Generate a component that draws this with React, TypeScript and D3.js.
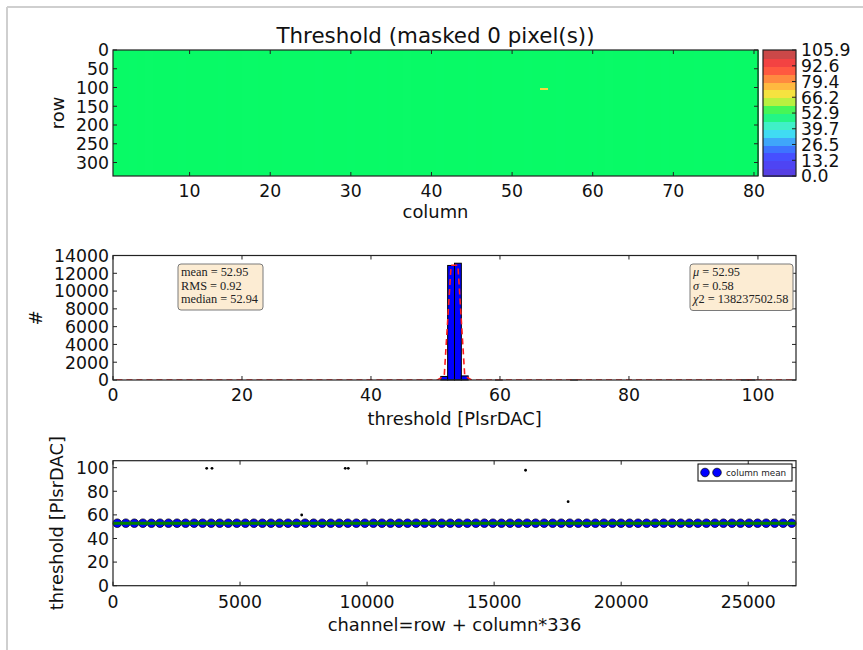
import React from "react";
import * as d3 from "d3";

// pixel map: 336 rows x 80 columns, channel = row + column*336
const NROWS = 336;
const NCOLS = 80;
const VMAX = 105.9;

const heatRowTicks = [0, 50, 100, 150, 200, 250, 300];
const heatColTicks = [10, 20, 30, 40, 50, 60, 70, 80];
const colorbarTicks = [0.0, 13.2, 26.5, 39.7, 52.9, 66.2, 79.4, 92.6, 105.9];
const histXTicks = [0, 20, 40, 60, 80, 100];
const histYTicks = [0, 2000, 4000, 6000, 8000, 10000, 12000, 14000];
const scatXTicks = [0, 5000, 10000, 15000, 20000, 25000];
const scatYTicks = [0, 20, 40, 60, 80, 100];

// colormap
const cmapStops = [0, 15, 24, 32, 39, 46, 53, 61, 67, 74, 82, 88, 94, 103];
const cmapColors = [
  "#5a3cdc", "#4848ff", "#3c78ff", "#40b8f8", "#40f0f0", "#40f0a8", "#08fa66",
  "#a0f040", "#f0f040", "#ffc840", "#ff9040", "#ff6040", "#ff4040", "#c84848",
];

// column means (column mean markers + heatmap body)
const columnMeans = [
  52.95, 52.96, 52.94, 52.95, 52.93, 52.95, 52.96, 52.95, 52.94, 52.95,
  52.97, 52.96, 52.95, 52.94, 52.95, 52.95, 52.93, 52.94, 52.95, 52.96,
  52.95, 52.94, 52.96, 52.95, 52.95, 52.94, 52.95, 52.97, 52.95, 52.94,
  52.95, 52.96, 52.95, 52.94, 52.95, 52.95, 52.93, 52.95, 52.96, 52.95,
  52.94, 52.95, 52.95, 52.96, 52.94, 52.95, 52.95, 52.94, 52.97, 52.95,
  52.95, 52.94, 52.95, 52.96, 52.95, 52.94, 52.95, 52.95, 52.96, 52.94,
  52.95, 52.93, 52.95, 52.95, 52.96, 52.94, 52.95, 52.95, 52.94, 52.96,
  52.95, 52.95, 52.94, 52.95, 52.96, 52.95, 52.94, 52.95, 52.95, 52.95,
];

// hot spot visible in the map (display column, row range)
const hotCells = [{ column: 54, rowStart: 102, rowEnd: 107, value: 71.2 }];

// single channels far from the bulk
const outlierChannels = [3687, 3896, 7426, 9140, 9260, 16237, 17912];
const outlierValues = [99.4, 99.4, 59.9, 99.4, 99.4, 97.8, 71.2];

// histogram (100 bins over 0..105.9)
const N_BINS = 100;
const HIST_BIN_WIDTH = 1.059;
const histBinLow = [50.83, 51.89, 52.95, 54.01];
const histCounts = [400, 12880, 13130, 460];

const fitMu = 52.95;
const fitSigma = 0.58;
const fitAmp = 19580;
const overallMean = 52.95;

const FONT = "DejaVu Sans, sans-serif";
const TICK_FS = 17.3;
const LABEL_FS = 17.9;
const TITLE_FS = 21.4;

const cmap = d3.scaleLinear<string>().domain(cmapStops).range(cmapColors).clamp(true);

const frame = (x0: number, y0: number, x1: number, y1: number) => (
  <rect x={x0} y={y0} width={x1 - x0} height={y1 - y0} fill="none" stroke="#222" strokeWidth={1.2} />
);

const App = () => {
  // ---- panel 1: heat map
  const h = { l: 113, r: 758, t: 50, b: 176 };
  const hx = d3.scaleLinear().domain([0.5, NCOLS + 0.5]).range([h.l, h.r]);
  const hy = d3.scaleLinear().domain([0, NROWS]).range([h.t, h.b]);
  const cb = { l: 763, r: 796 };
  const cby = d3.scaleLinear().domain([0, VMAX]).range([h.b, h.t]);
  const nBands = 16;
  const bands = d3.range(nBands).map((i) => (i * VMAX) / nBands);

  // ---- panel 2: histogram
  const g = { l: 113, r: 796, t: 255.5, b: 380 };
  const gx = d3.scaleLinear().domain([0, VMAX]).range([g.l, g.r]);
  const gy = d3.scaleLinear().domain([0, 14000]).range([g.b, g.t]);
  const outlierBins = d3.rollups(
    outlierValues,
    (v) => v.length,
    (v) => Math.floor(v / HIST_BIN_WIDTH) * HIST_BIN_WIDTH
  );
  const histAll = [
    ...histBinLow.map((lo, i) => ({ lo, n: histCounts[i] })),
    ...outlierBins.map(([lo, n]) => ({ lo, n })),
  ];
  // gaussian fit evaluated at the bin centres
  const fitLine = d3
    .line<number>()
    .x((v) => gx(v))
    .y((v) => gy(fitAmp * Math.exp(-((v - fitMu) ** 2) / (2 * fitSigma * fitSigma))));
  const binCentres = d3.range(N_BINS).map((i) => (i + 0.5) * HIST_BIN_WIDTH);

  // ---- panel 3: channel scatter
  const s = { l: 113, r: 796, t: 460.7, b: 585.7 };
  const sx = d3.scaleLinear().domain([0, NROWS * NCOLS]).range([s.l, s.r]);
  const sy = d3.scaleLinear().domain([0, VMAX]).range([s.b, s.t]);

  const tickLen = 4;
  const yOff = 6.3;

  return (
    <div style={{ position: "absolute", left: 0, top: 0 }}>
      <svg width={863} height={650} style={{ display: "block", background: "#fff" }} fontFamily={FONT}>
        <line x1={7} y1={7} x2={863} y2={7} stroke="#cfcfcf" strokeWidth={2} />
        <line x1={7} y1={7} x2={7} y2={650} stroke="#cfcfcf" strokeWidth={2} />

        {/* ===== heat map ===== */}
        <text x={(h.l + h.r) / 2} y={43} fontSize={TITLE_FS} textAnchor="middle" fill="#111">
          Threshold (masked 0 pixel(s))
        </text>
        <g shapeRendering="crispEdges">
          {columnMeans.map((m, i) => (
            <rect key={i} x={hx(i + 0.5)} y={h.t} width={hx(i + 1.5) - hx(i + 0.5) + 1} height={h.b - h.t} fill={cmap(m)} />
          ))}
          {hotCells.map((c, i) => (
            <rect key={i} x={hx(c.column - 0.5)} y={hy(c.rowStart)} width={hx(1.5) - hx(0.5)} height={hy(c.rowEnd) - hy(c.rowStart)} fill={cmap(c.value)} />
          ))}
        </g>
        {heatColTicks.map((t) => (
          <g key={t}>
            <line x1={hx(t)} x2={hx(t)} y1={h.b} y2={h.b - tickLen} stroke="#222" />
            <line x1={hx(t)} x2={hx(t)} y1={h.t} y2={h.t + tickLen} stroke="#222" />
            <text x={hx(t)} y={197} fontSize={TICK_FS} textAnchor="middle" fill="#111">{t}</text>
          </g>
        ))}
        {heatRowTicks.map((t) => (
          <g key={t}>
            <line x1={h.l} x2={h.l + tickLen} y1={hy(t)} y2={hy(t)} stroke="#222" />
            <line x1={h.r} x2={h.r - tickLen} y1={hy(t)} y2={hy(t)} stroke="#222" />
            <text x={109} y={hy(t) + yOff} fontSize={TICK_FS} textAnchor="end" fill="#111">{t}</text>
          </g>
        ))}
        {frame(h.l, h.t, h.r, h.b)}
        <text x={(h.l + h.r) / 2} y={218} fontSize={LABEL_FS} textAnchor="middle" fill="#111">column</text>
        <text transform={`translate(64,${(h.t + h.b) / 2}) rotate(-90)`} fontSize={LABEL_FS} textAnchor="middle" fill="#111">row</text>

        {/* colorbar */}
        <g shapeRendering="crispEdges">
          {bands.map((v, i) => (
            <rect key={i} x={cb.l} y={cby(v + VMAX / nBands)} width={cb.r - cb.l} height={cby(v) - cby(v + VMAX / nBands) + 1} fill={cmap(v + VMAX / nBands / 2)} />
          ))}
        </g>
        {colorbarTicks.map((t) => (
          <g key={t}>
            <line x1={cb.r} x2={cb.r - tickLen} y1={cby(t)} y2={cby(t)} stroke="#222" />
            <text x={801} y={cby(t) + yOff} fontSize={TICK_FS} fill="#111">{t.toFixed(1)}</text>
          </g>
        ))}
        {frame(cb.l, h.t, cb.r, h.b)}

        {/* ===== histogram ===== */}
        <defs>
          <clipPath id="histClip">
            <rect x={g.l} y={g.t} width={g.r - g.l} height={g.b - g.t} />
          </clipPath>
        </defs>
        {histAll.map((d, i) => (
          <rect key={i} x={gx(d.lo)} y={gy(d.n)} width={gx(d.lo + HIST_BIN_WIDTH) - gx(d.lo)} height={g.b - gy(d.n)} fill="#0000ff" stroke="#000" strokeWidth={1} />
        ))}
        <path d={fitLine(binCentres) ?? ""} fill="none" stroke="#ff2020" strokeWidth={1.6} strokeDasharray="6,4" clipPath="url(#histClip)" />
        {histXTicks.map((t) => (
          <g key={t}>
            <line x1={gx(t)} x2={gx(t)} y1={g.b} y2={g.b - tickLen} stroke="#222" />
            <line x1={gx(t)} x2={gx(t)} y1={g.t} y2={g.t + tickLen} stroke="#222" />
            <text x={gx(t)} y={401} fontSize={TICK_FS} textAnchor="middle" fill="#111">{t}</text>
          </g>
        ))}
        {histYTicks.map((t) => (
          <g key={t}>
            <line x1={g.l} x2={g.l + tickLen} y1={gy(t)} y2={gy(t)} stroke="#222" />
            <line x1={g.r} x2={g.r - tickLen} y1={gy(t)} y2={gy(t)} stroke="#222" />
            <text x={109} y={gy(t) + yOff} fontSize={TICK_FS} textAnchor="end" fill="#111">{t}</text>
          </g>
        ))}
        {frame(g.l, g.t, g.r, g.b)}
        <text x={(g.l + g.r) / 2} y={425} fontSize={LABEL_FS} textAnchor="middle" fill="#111">threshold [PlsrDAC]</text>
        <text transform={`translate(42,${(g.t + g.b) / 2}) rotate(-90)`} fontSize={LABEL_FS} textAnchor="middle" fill="#111">#</text>

        <g fontFamily="Liberation Serif, serif" fontSize={12.3} fill="#222">
          <rect x={178} y={264} width={85} height={46} rx={3} fill="#fcecd3" stroke="#7a7a7a" />
          <text x={181} y={276}>mean = 52.95</text>
          <text x={181} y={289.5}>RMS = 0.92</text>
          <text x={181} y={303}>median = 52.94</text>
          <rect x={690} y={264} width={103} height={46.5} rx={3} fill="#fcecd3" stroke="#7a7a7a" />
          <text x={693} y={276}><tspan fontStyle="italic">μ</tspan> = 52.95</text>
          <text x={693} y={289.5}><tspan fontStyle="italic">σ</tspan> = 0.58</text>
          <text x={693} y={303}><tspan fontStyle="italic">χ</tspan>2 = 138237502.58</text>
        </g>

        {/* ===== channel scatter ===== */}
        {outlierChannels.map((c, i) => (
          <circle key={i} cx={sx(c)} cy={sy(outlierValues[i])} r={1.4} fill="#000" />
        ))}
        {columnMeans.map((m, i) => (
          <circle key={i} cx={sx(i * NROWS + NROWS / 2)} cy={sy(m)} r={4.3} fill="#0000ff" stroke="#000" strokeWidth={0.7} />
        ))}
        <line x1={s.l} x2={s.r} y1={sy(overallMean)} y2={sy(overallMean)} stroke="#008000" strokeWidth={3} />
        {scatXTicks.map((t) => (
          <g key={t}>
            <line x1={sx(t)} x2={sx(t)} y1={s.b} y2={s.b - tickLen} stroke="#222" />
            <line x1={sx(t)} x2={sx(t)} y1={s.t} y2={s.t + tickLen} stroke="#222" />
            <text x={sx(t)} y={608} fontSize={TICK_FS} textAnchor="middle" fill="#111">{t}</text>
          </g>
        ))}
        {scatYTicks.map((t) => (
          <g key={t}>
            <line x1={s.l} x2={s.l + tickLen} y1={sy(t)} y2={sy(t)} stroke="#222" />
            <line x1={s.r} x2={s.r - tickLen} y1={sy(t)} y2={sy(t)} stroke="#222" />
            <text x={109} y={sy(t) + yOff} fontSize={TICK_FS} textAnchor="end" fill="#111">{t}</text>
          </g>
        ))}
        {frame(s.l, s.t, s.r, s.b)}
        <text x={(s.l + s.r) / 2} y={631} fontSize={LABEL_FS} textAnchor="middle" fill="#111">channel=row + column*336</text>
        <text transform={`translate(63,${(s.t + s.b) / 2}) rotate(-90)`} fontSize={LABEL_FS} textAnchor="middle" fill="#111">threshold [PlsrDAC]</text>

        <g>
          <rect x={698} y={464} width={94} height={17} fill="#fff" stroke="#000" strokeWidth={1} />
          <circle cx={705} cy={472.5} r={4.3} fill="#0000ff" stroke="#000" strokeWidth={0.7} />
          <circle cx={717} cy={472.5} r={4.3} fill="#0000ff" stroke="#000" strokeWidth={0.7} />
          <text x={726} y={475.5} fontSize={8.8} fill="#222">column mean</text>
        </g>
      </svg>
    </div>
  );
};

export default App;
